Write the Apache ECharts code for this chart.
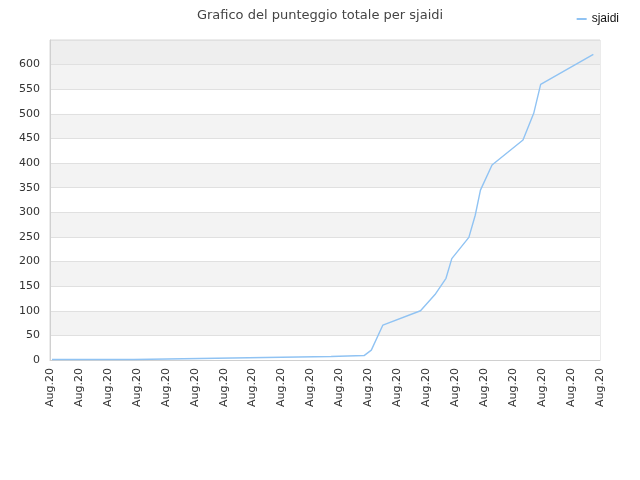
<!DOCTYPE html>
<html>
<head>
<meta charset="utf-8">
<script src="https://cdn.jsdelivr.net/npm/echarts@6/dist/echarts.min.js"></script>
<style>
  html, body { margin: 0; padding: 0; background: #fff; }
  #chart { width: 640px; height: 480px; }
</style>
</head>
<body>
<div id="chart"></div>
<script>
// tick labels along the bottom (one per position 0..19)
var tickLabels = ['Aug.20','Aug.20','Aug.20','Aug.20','Aug.20','Aug.20','Aug.20','Aug.20','Aug.20','Aug.20',
                  'Aug.20','Aug.20','Aug.20','Aug.20','Aug.20','Aug.20','Aug.20','Aug.20','Aug.20','Aug.20'];
// position of each point, in tick units
var pos = [0.07, 2.9, 2.94, 5.18, 5.22, 7.43, 7.46, 9.71, 9.74, 10.85, 11.1, 11.5, 12.8,
           13.3, 13.68, 13.88, 14.47, 14.69, 14.87, 15.27, 16.34, 16.71, 16.95, 18.77];
// total score
var score = [1, 1, 3, 3, 5, 5, 7, 7, 9, 9, 20, 71, 100,
             133, 166, 206, 249, 294, 345, 396, 447, 501, 560, 621];
var seriesName = 'sjaidi';
var title = 'Grafico del punteggio totale per sjaidi';

var points = [];
for (var i = 0; i < pos.length; i++) {
	points.push([pos[i], score[i]]);
}

var bands = [];
for (var b = 0; b < 13; b++) {
	bands.push(b == 12 ? '#eeeeee' : (b % 2 == 0 ? '#ffffff' : '#f3f3f3'));
}

var myChart = echarts.init(document.getElementById('chart'));
var option = {
	animation: false,
	title: {
		text: title,
		left: 'center',
		top: 4,
		textStyle: { fontFamily: 'DejaVu Sans', fontSize: 13, fontWeight: 'normal', color: '#444' }
	},
	legend: {
		right: 16,
		top: 8,
		itemWidth: 10,
		itemHeight: 2,
		itemGap: 10,
		icon: 'rect',
		textStyle: { fontFamily: 'Liberation Sans', fontSize: 12, color: '#111' },
		data: [seriesName]
	},
	grid: {
		left: 50,
		right: 40,
		top: 40,
		bottom: 120,
		show: true,
		borderColor: '#d8d8d8',
		borderWidth: 1
	},
	xAxis: {
		type: 'value',
		min: 0,
		max: tickLabels.length - 1,
		interval: 1,
		axisLine: { show: true, lineStyle: { color: '#d0d0d0' } },
		axisTick: { show: false },
		splitLine: { show: false },
		axisLabel: {
			rotate: 90,
			margin: 8,
			fontFamily: 'DejaVu Sans',
			fontSize: 11,
			color: '#333',
			formatter: function (v) { return tickLabels[Math.round(v)] || ''; }
		}
	},
	yAxis: {
		type: 'value',
		min: 0,
		max: 650,
		interval: 50,
		axisLine: { show: true, lineStyle: { color: '#d0d0d0' } },
		axisTick: { show: false },
		splitLine: { show: true, lineStyle: { color: '#e0e0e0' } },
		splitArea: { show: true, areaStyle: { color: bands } },
		axisLabel: {
			margin: 10,
			fontFamily: 'DejaVu Sans',
			fontSize: 11,
			color: '#333',
			formatter: function (v) { return v == 650 ? '' : v; }
		}
	},
	series: [
		{
			name: seriesName,
			type: 'line',
			data: points,
			showSymbol: false,
			symbol: 'none',
			lineStyle: { color: '#90c3f3', width: 1.4 },
			itemStyle: { color: '#90c3f3' }
		}
	]
};
myChart.setOption(option);
</script>
</body>
</html>
